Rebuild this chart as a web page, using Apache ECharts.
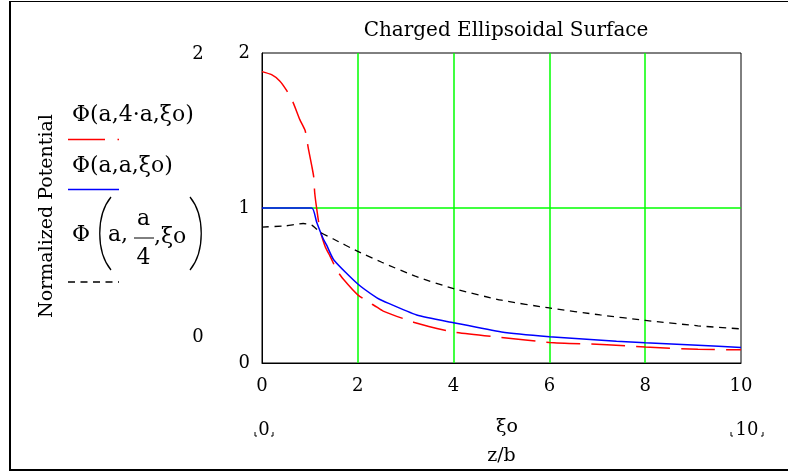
<!DOCTYPE html>
<html>
<head>
<meta charset="utf-8">
<title>Charged Ellipsoidal Surface</title>
<script src="https://cdn.jsdelivr.net/npm/echarts@6/dist/echarts.min.js"></script>
<style>
  html, body { margin: 0; padding: 0; background: #fff; }
  #chart { width: 788px; height: 472px; }
</style>
</head>
<body>
<div id="chart"></div>
<script>
// Normalized potential along the symmetry axis, plotted against z/b.
// Prolate surface, c = 4a
const prolateZ   = [0, 0.2, 0.37, 0.51, 0.65, 0.79, 0.9, 0.97, 1.04, 1.08, 1.1, 1.14, 1.21, 1.32, 1.42, 1.56, 1.7, 2.0, 2.4, 2.53, 3.2, 4.0, 5.0, 6.0, 7.2, 8.0, 9.1, 10];
const prolatePhi = [1.88, 1.86, 1.82, 1.76, 1.68, 1.57, 1.5, 1.38, 1.27, 1.2, 1.1, 1.0, 0.86, 0.75, 0.69, 0.6, 0.54, 0.44, 0.36, 0.335, 0.26, 0.2, 0.165, 0.133, 0.118, 0.103, 0.088, 0.085];
// Sphere, c = a
const sphereZ   = [0, 0.5, 1.04, 1.14, 1.28, 1.35, 1.5, 2.0, 2.4, 2.53, 3.23, 4.0, 5.0, 6.0, 7.4, 8.0, 9.1, 10];
const spherePhi = [1.0, 1.0, 1.0, 0.91, 0.8, 0.76, 0.665, 0.51, 0.42, 0.4, 0.31, 0.26, 0.2, 0.17, 0.14, 0.13, 0.115, 0.1];
// Oblate surface, c = a/4
const oblateZ   = [0, 0.5, 0.86, 1.04, 1.21, 1.49, 2.0, 2.5, 3.2, 4.0, 5.0, 6.0, 7.06, 8.0, 9.1, 10];
const oblatePhi = [0.877, 0.885, 0.9, 0.89, 0.845, 0.8, 0.72, 0.65, 0.56, 0.48, 0.405, 0.355, 0.31, 0.275, 0.24, 0.22];

const xTicks = { min: 0, max: 10, interval: 2 };
const yTicks = { min: 0, max: 2, interval: 1 };

const chartTitle = 'Charged Ellipsoidal Surface';
const yTitle = 'Normalized Potential';
const xTitle = 'z/b';
const xVar = 'ξo';

const FONT = '"DejaVu Serif", "Liberation Serif", serif';
const GREEN = '#00ff00';
const LEG = 22; // legend font size

const zip = (xs, ys) => xs.map((x, i) => [x, ys[i]]);

const chart = echarts.init(document.getElementById('chart'), null, { renderer: 'canvas' });

function txt(text, x, y, size, align, extra) {
  return Object.assign({
    type: 'text', silent: true,
    style: { text: text, x: x, y: y, font: size + 'px ' + FONT, fill: '#000', align: align || 'left', verticalAlign: 'middle' }
  }, extra || {});
}
function seg(x1, y1, x2, y2, color, width, dash) {
  return {
    type: 'line', silent: true,
    shape: { x1: x1, y1: y1, x2: x2, y2: y2 },
    style: { stroke: color, lineWidth: width, lineDash: dash || null }
  };
}
function paren(x, top, bottom, dir) {
  // tall bracket drawn as a curve; dir = -1 opens right "(", +1 opens left ")"
  const mid1 = top + (bottom - top) * 0.25, mid2 = top + (bottom - top) * 0.75;
  return {
    type: 'bezierCurve', silent: true,
    shape: { x1: x, y1: top, cpx1: x + dir * 15, cpy1: mid1, cpx2: x + dir * 15, cpy2: mid2, x2: x, y2: bottom },
    style: { stroke: '#000', lineWidth: 1.3, fill: null }
  };
}
function cornerMarks(cx, cy, halfW) {
  // small placeholder corner brackets around an end-of-range value
  const l = cx - halfW, r = cx + halfW, b = cy + 6;
  return [
    { type: 'polyline', silent: true, shape: { points: [[l, b - 4], [l, b], [l + 2, b]] }, style: { stroke: '#000', lineWidth: 1, fill: null } },
    { type: 'polyline', silent: true, shape: { points: [[r, b - 4], [r, b], [r - 2, b]] }, style: { stroke: '#000', lineWidth: 1, fill: null } }
  ];
}

const elements = [
  // outer frame
  seg(9, 1.5, 800, 1.5, '#000', 1),
  seg(10, 1, 10, 471, '#000', 2),
  seg(9, 470, 800, 470, '#000', 2),
  // rotated y-axis title
  txt(yTitle, 0, 0, 19, 'center', { rotation: Math.PI / 2, x: 47.5, y: 216 }),
  // stray range labels beside the legend
  txt('2', 198, 54, 18, 'center'),
  txt('0', 198, 337, 18, 'center'),
  // legend entry 1
  txt('Φ(a,4·a,ξo)', 72, 115, LEG),
  seg(68, 139.5, 105, 139.5, '#ff0000', 1.5),
  seg(117.5, 139.5, 119, 139.5, '#ff0000', 1.5),
  // legend entry 2
  txt('Φ(a,a,ξo)', 72, 166, LEG),
  seg(68, 189.5, 119, 189.5, '#0000ff', 1.5),
  // legend entry 3 with a stacked fraction
  txt('Φ', 72, 235, LEG),
  paren(111, 197, 270, -1),
  txt('a,', 108, 235, LEG),
  txt('a', 143.5, 219, LEG, 'center'),
  seg(134, 238, 154, 238, '#000', 1),
  txt('4', 143.5, 258, LEG, 'center'),
  txt(',ξo', 154, 237, LEG),
  paren(190, 197, 270, 1),
  seg(68, 282, 119, 282, '#000', 1.3, [7, 5.5]),
  // range markers under the x axis
  txt('0', 264, 430, 18, 'center'),
  txt('10', 747, 430, 18, 'center'),
  txt(xVar, 507, 427, 19, 'center')
].concat(cornerMarks(264, 430, 9), cornerMarks(747, 430, 16));

const axisLabelStyle = { color: '#000', fontFamily: FONT, fontSize: 18 };

chart.setOption({
  animation: false,
  backgroundColor: '#fff',
  title: {
    text: chartTitle, left: 501, top: 16, textAlign: 'center',
    textStyle: { color: '#000', fontFamily: FONT, fontSize: 20, fontWeight: 'normal' }
  },
  grid: { left: 262, top: 53, width: 479, height: 310, show: true, borderColor: '#000', borderWidth: 1, backgroundColor: 'transparent' },
  xAxis: {
    type: 'value', min: xTicks.min, max: xTicks.max, interval: xTicks.interval,
    name: xTitle, nameLocation: 'middle', nameGap: 84,
    nameTextStyle: { color: '#000', fontFamily: FONT, fontSize: 19 },
    axisLine: { lineStyle: { color: '#000', width: 1 } },
    axisTick: { show: false },
    axisLabel: Object.assign({ margin: 14 }, axisLabelStyle),
    splitLine: { show: true, showMinLine: false, showMaxLine: false, lineStyle: { color: GREEN, width: 1.5 } }
  },
  yAxis: {
    type: 'value', min: yTicks.min, max: yTicks.max, interval: yTicks.interval,
    axisLine: { show: true, lineStyle: { color: '#000', width: 1 } },
    axisTick: { show: false },
    axisLabel: Object.assign({ margin: 12, padding: [5, 0, 0, 0] }, axisLabelStyle),
    splitLine: { show: true, showMinLine: false, showMaxLine: false, lineStyle: { color: GREEN, width: 1.5 } }
  },
  graphic: { elements: elements },
  series: [
    {
      name: 'Φ(a,4·a,ξo)', type: 'line', data: zip(prolateZ, prolatePhi),
      showSymbol: false, smooth: 0.2, z: 3,
      lineStyle: { color: '#ff0000', width: 1.5, type: [34, 11] }
    },
    {
      name: 'Φ(a,a,ξo)', type: 'line', data: zip(sphereZ, spherePhi),
      showSymbol: false, smooth: 0.2, z: 4,
      lineStyle: { color: '#0000ff', width: 1.5 }
    },
    {
      name: 'Φ(a,a/4,ξo)', type: 'line', data: zip(oblateZ, oblatePhi),
      showSymbol: false, smooth: 0.2, z: 5,
      lineStyle: { color: '#000', width: 1.3, type: [7, 5.5] }
    }
  ]
});
</script>
</body>
</html>
